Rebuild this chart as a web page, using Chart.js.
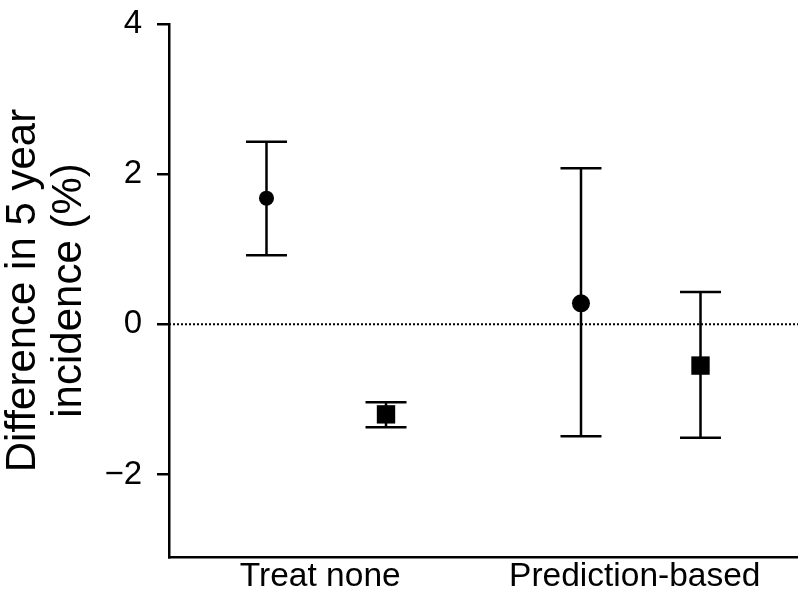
<!DOCTYPE html>
<html>
<head>
<meta charset="utf-8">
<script src="https://cdn.jsdelivr.net/npm/chart.js@4"></script>
<style>
  html, body { margin: 0; padding: 0; background: #fff; overflow: hidden; }
  #wrap { width: 798px; height: 596px; position: relative; }
  canvas { display: block; }
</style>
</head>
<body>
<div id="wrap"><canvas id="chart"></canvas></div>
<script>
// -------------------------
// Data
// -------------------------
const categories = ["Treat none", "Prediction-based"];

// circles
const circleEst = [1.68, 0.28];
const circleLo = [0.92, -1.49];
const circleHi = [2.43, 2.08];

// squares
const squareEst = [-1.20, -0.55];
const squareLo = [-1.37, -1.51];
const squareHi = [-1.04, 0.43];

const yTicks = [4, 2, 0, -2];
// -------------------------

const FONT = "'Liberation Sans', Arial, Helvetica, sans-serif";
const shift = 0.19; // circle left, square right of the group centre

const circlePts = circleEst.map((v, i) => ({ x: i + 1 - shift, y: v }));
const squarePts = squareEst.map((v, i) => ({ x: i + 1 + shift, y: v }));

// whiskers with caps, drawn under the markers
const errorBars = {
  id: "errorBars",
  beforeDatasetsDraw(chart) {
    const { ctx, scales: { x, y } } = chart;
    const sets = [
      [circlePts, circleLo, circleHi],
      [squarePts, squareLo, squareHi],
    ];
    ctx.save();
    ctx.strokeStyle = "#000";
    ctx.lineWidth = 2.5;
    sets.forEach(([pts, lo, hi]) => {
      pts.forEach((p, i) => {
        const px = x.getPixelForValue(p.x);
        const top = y.getPixelForValue(hi[i]);
        const bot = y.getPixelForValue(lo[i]);
        ctx.beginPath();
        ctx.moveTo(px, top);
        ctx.lineTo(px, bot);
        ctx.moveTo(px - 20.5, top);
        ctx.lineTo(px + 20.5, top);
        ctx.moveTo(px - 20.5, bot);
        ctx.lineTo(px + 20.5, bot);
        ctx.stroke();
      });
    });
    ctx.restore();
  },
};

const ctx = document.getElementById("chart").getContext("2d");
new Chart(ctx, {
  type: "scatter",
  data: {
    datasets: [
      {
        type: "line",
        data: [{ x: 0.5, y: 0 }, { x: 2.5, y: 0 }],
        borderColor: "#000",
        borderWidth: 2,
        borderDash: [2, 2],
        pointRadius: 0,
        fill: false,
      },
      {
        data: circlePts,
        pointStyle: "circle",
        pointRadius: [7.5, 9],
        backgroundColor: "#000",
        borderColor: "#000",
        borderWidth: 0,
      },
      {
        data: squarePts,
        pointStyle: "rect",
        pointRadius: 13,
        backgroundColor: "#000",
        borderColor: "#000",
        borderWidth: 0,
      },
    ],
  },
  options: {
    responsive: true,
    maintainAspectRatio: false,
    animation: false,
    layout: { autoPadding: false, padding: { top: 24, right: 0, left: 0, bottom: 0 } },
    plugins: {
      legend: { display: false },
      tooltip: { enabled: false },
    },
    scales: {
      x: {
        type: "linear",
        min: 0.5,
        max: 2.5,
        afterBuildTicks: (scale) => {
          scale.ticks = categories.map((c, i) => ({ value: i + 1 }));
        },
        afterFit: (scale) => {
          scale.height = 39;
          scale.paddingLeft = 0;
          scale.paddingRight = 0;
        },
        grid: { display: false, drawTicks: false },
        border: { display: true, color: "#000", width: 2.5 },
        ticks: {
          color: "#000",
          font: { family: FONT, size: 33.5 },
          padding: 0,
          labelOffset: -6,
          maxRotation: 0,
          callback: (v) => categories[Math.round(v) - 1],
        },
      },
      y: {
        min: -3.1,
        max: 4,
        afterBuildTicks: (scale) => {
          scale.ticks = yTicks.map((v) => ({ value: v }));
        },
        afterFit: (scale) => {
          scale.width = 169;
          scale.paddingTop = 0;
          scale.paddingBottom = 0;
        },
        grid: {
          drawOnChartArea: false,
          drawTicks: true,
          tickLength: 12,
          color: "#000",
          lineWidth: 2.5,
        },
        border: { display: true, color: "#000", width: 2.5 },
        ticks: {
          color: "#000",
          font: { family: FONT, size: 33 },
          padding: 15,
          callback: (v) => (v < 0 ? "\u2212" + Math.abs(v) : String(v)),
        },
        title: {
          display: true,
          text: ["Difference in 5 year", "incidence (%)"],
          color: "#000",
          font: { family: FONT, size: 42, lineHeight: 1.095 },
          padding: { top: 0, bottom: 0 },
        },
      },
    },
  },
  plugins: [errorBars],
});
</script>
</body>
</html>
